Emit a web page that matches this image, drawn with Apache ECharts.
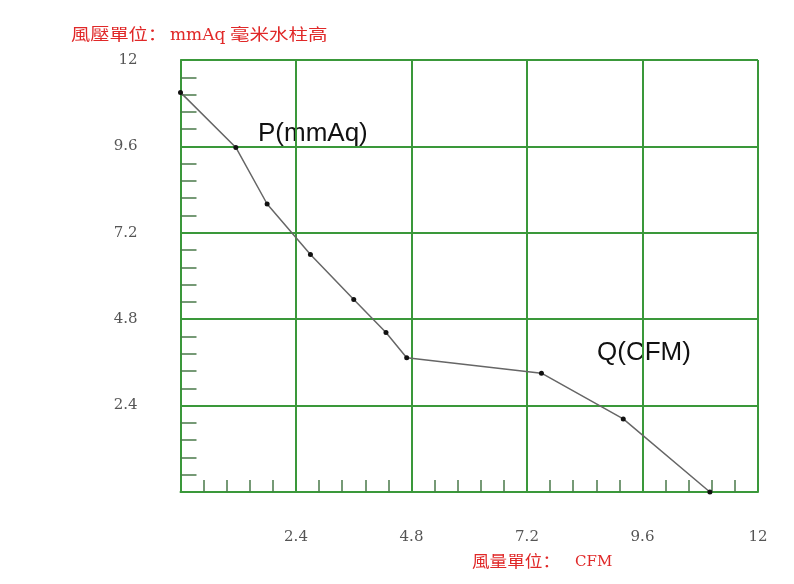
<!DOCTYPE html>
<html><head><meta charset="utf-8">
<script src="https://cdn.jsdelivr.net/npm/echarts@6/dist/echarts.min.js"></script>
<style>html,body{margin:0;padding:0;background:#fff}#c{width:794px;height:584px}</style>
</head><body><div id="c"></div>
<script>
const flowCFM = [0, 1.15, 1.8, 2.7, 3.6, 4.27, 4.7, 7.5, 9.2, 11.0];
const pressureMmAq = [11.1, 9.57, 8.0, 6.6, 5.35, 4.43, 3.73, 3.3, 2.03, 0];
const yTitleParts = ['風壓單位：', 'mmAq', '毫米水柱高'];
const xTitleParts = ['風量單位：', 'CFM'];
const curveLabelP = 'P(mmAq)';
const curveLabelQ = 'Q(CFM)';

const green = '#3a983a';
const tickColor = '#4a7a4a';
const red = '#e02828';
const cjkFont = '16px "Noto Sans CJK SC", sans-serif';
const chart = echarts.init(document.getElementById('c'), null, {renderer: 'canvas'});
const labelFont = {color: '#555', fontSize: 15, fontFamily: 'DejaVu Serif, serif'};
const fmt = v => v === 0 ? '' : String(+v.toFixed(1));
chart.setOption({
  animation: false,
  backgroundColor: '#fff',
  grid: {left: 180.5, right: 36, top: 60, bottom: 92},
  xAxis: {
    type: 'value', min: 0, max: 12, interval: 2.4,
    axisLine: {show: true, onZero: false, lineStyle: {color: green, width: 2}},
    axisTick: {show: false},
    minorTick: {show: true, splitNumber: 5, length: -12, lineStyle: {color: tickColor, width: 1.5}},
    splitLine: {show: true, lineStyle: {color: green, width: 2}},
    axisLabel: Object.assign({margin: 38, formatter: fmt}, labelFont)
  },
  yAxis: {
    type: 'value', min: 0, max: 12, interval: 2.4,
    axisLine: {show: true, onZero: false, lineStyle: {color: green, width: 2}},
    axisTick: {show: false},
    minorTick: {show: true, splitNumber: 5, length: -16, lineStyle: {color: tickColor, width: 1.5}},
    splitLine: {show: true, lineStyle: {color: green, width: 2}},
    axisLabel: Object.assign({margin: 43, formatter: fmt}, labelFont)
  },
  series: [{
    type: 'line',
    data: flowCFM.map((x, i) => [x, pressureMmAq[i]]),
    symbol: 'circle', symbolSize: 5,
    itemStyle: {color: '#111'},
    lineStyle: {color: '#666', width: 1.5}
  }],
  graphic: [
    {type: 'text', x: 71, y: 26, scaleX: 1.2, style: {text: yTitleParts[0], fill: red, font: cjkFont}},
    {type: 'text', x: 170, y: 27, style: {text: yTitleParts[1], fill: red, font: '17px "DejaVu Serif", serif'}},
    {type: 'text', x: 230, y: 26, scaleX: 1.22, style: {text: yTitleParts[2], fill: red, font: cjkFont}},
    {type: 'text', x: 472, y: 553, scaleX: 1.1, style: {text: xTitleParts[0], fill: red, font: cjkFont}},
    {type: 'text', x: 575, y: 555, style: {text: xTitleParts[1], fill: red, font: '15px "DejaVu Serif", serif'}},
    {type: 'text', x: 258, y: 121, style: {text: curveLabelP, fill: '#111', font: '26px "Liberation Sans", sans-serif'}},
    {type: 'text', x: 597, y: 340, style: {text: curveLabelQ, fill: '#111', font: '26px "Liberation Sans", sans-serif'}}
  ]
});
</script></body></html>
